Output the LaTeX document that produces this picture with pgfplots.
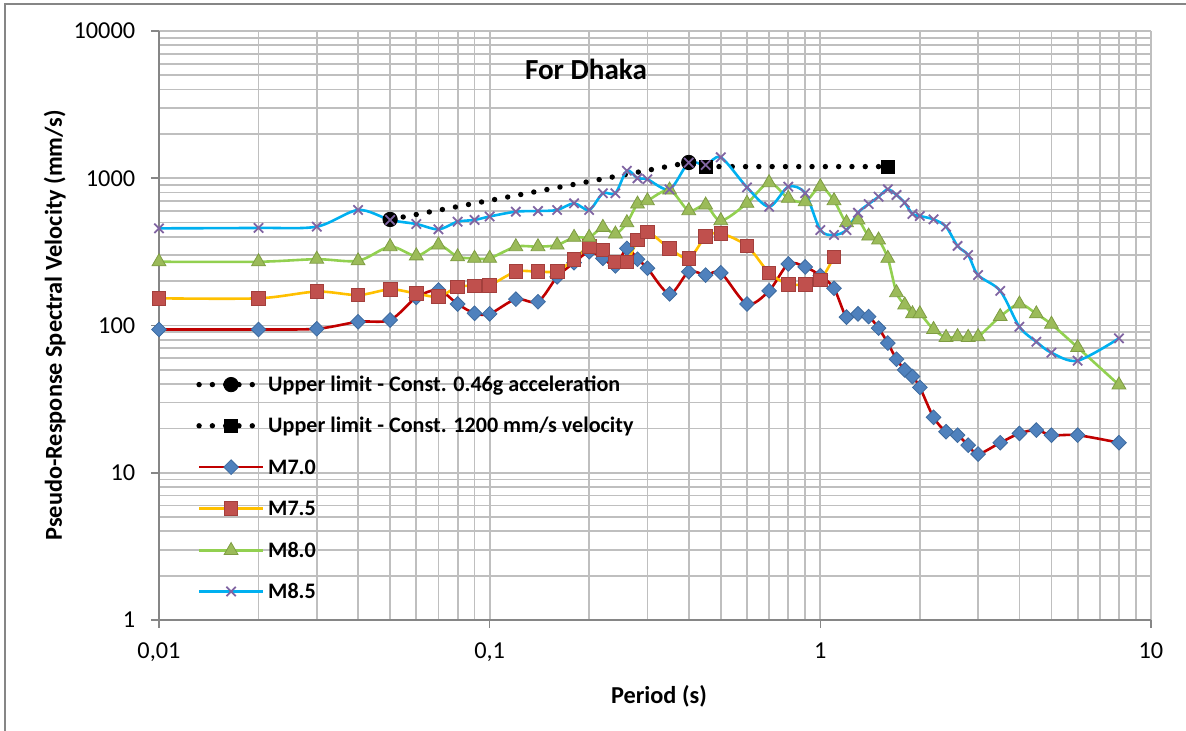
\documentclass[border=0pt]{standalone}
\usepackage{fontspec}
\setmainfont{Carlito}
\usepackage{pgfplots}
\pgfplotsset{compat=1.18}
\definecolor{bordergray}{HTML}{868686}
\definecolor{gridgray}{HTML}{BFBFBF}
\definecolor{axisgray}{HTML}{868686}
\definecolor{lred}{HTML}{C00000}
\definecolor{lyel}{HTML}{FFC000}
\definecolor{lgrn}{HTML}{92D050}
\definecolor{lcyan}{HTML}{00B0F0}
\definecolor{mblue}{HTML}{4F81BD}
\definecolor{mblueb}{HTML}{3D6A9E}
\definecolor{mred}{HTML}{C0504D}
\definecolor{mredb}{HTML}{A33F3C}
\definecolor{mgrn}{HTML}{9BBB59}
\definecolor{mgrnb}{HTML}{7E9C43}
\definecolor{mpur}{HTML}{8064A2}

\pgfplotstableread{
T v
0.01 94
0.02 94
0.03 95
0.04 106
0.05 109
0.06 155
0.07 174
0.08 140
0.09 121
0.1 120
0.12 151
0.14 145
0.16 214
0.18 267
0.2 317
0.22 286
0.24 254
0.26 334
0.28 282
0.3 245
0.35 164
0.4 232
0.45 220
0.5 228
0.6 140
0.7 172
0.8 262
0.9 250
1.0 218
1.1 179
1.2 114
1.3 120
1.4 115
1.5 96
1.6 76
1.7 59
1.8 50
1.9 45
2.0 38
2.2 23.8
2.4 19.0
2.6 18.0
2.8 15.4
3.0 13.4
3.5 16.0
4.0 18.5
4.5 19.5
5.0 18.0
6.0 18.0
8.0 16.0
}\mseven

\pgfplotstableread{
T v
0.01 153
0.02 153
0.03 170
0.04 161
0.05 176
0.06 165
0.07 157
0.08 183
0.09 186
0.1 188
0.12 232
0.14 232
0.16 234
0.18 282
0.2 343
0.22 326
0.24 271
0.26 271
0.28 381
0.3 433
0.35 334
0.4 286
0.45 401
0.5 422
0.6 347
0.7 228
0.8 191
0.9 191
1.0 204
1.1 293
}\msevenfive

\pgfplotstableread{
T v
0.01 271
0.02 271
0.03 282
0.04 275
0.05 343
0.06 297
0.07 352
0.08 293
0.09 286
0.1 286
0.12 343
0.14 343
0.16 352
0.18 397
0.2 397
0.22 464
0.24 418
0.26 499
0.28 668
0.3 704
0.35 832
0.4 602
0.45 658
0.5 515
0.6 676
0.7 933
0.8 731
0.9 693
1.0 876
1.1 704
1.2 499
1.3 521
1.4 405
1.5 381
1.6 286
1.7 167
1.8 138
1.9 120
2.0 120
2.2 94
2.4 83
2.6 84
2.8 83
3.0 84
3.5 115
4.0 140
4.5 120
5.0 102
6.0 71
8.0 39.5
}\meight

\pgfplotstableread{
T v
0.01 457
0.02 460
0.03 469
0.04 609
0.05 521
0.06 489
0.07 450
0.08 507
0.09 521
0.1 550
0.12 593
0.14 599
0.16 609
0.18 676
0.2 609
0.22 791
0.24 791
0.26 1125
0.28 1000
0.3 984
0.35 841
0.4 1275
0.45 1230
0.5 1388
0.6 868
0.7 641
0.8 876
0.9 791
1.0 445
1.1 412
1.2 445
1.3 583
1.4 668
1.5 749
1.6 841
1.7 770
1.8 682
1.9 572
2.0 554
2.2 526
2.4 469
2.6 347
2.8 301
3.0 220
3.5 172
4.0 98
4.5 77.6
5.0 65.3
6.0 57.7
8.0 81.8
}\meightfive

\begin{document}
\begin{tikzpicture}
\useasboundingbox (0,0) rectangle (593bp,-365.5bp);
\draw[draw=bordergray, line width=0.8bp] (2.5bp,-2bp) rectangle (640bp,-420bp);
\begin{axis}[
  at={(79.5bp,-310bp)}, anchor=south west,
  scale only axis, width=496bp, height=294.5bp,
  xmode=log, ymode=log,
  xmin=0.01, xmax=10, ymin=1, ymax=10000,
  clip=false,
  axis x line=bottom, axis y line=left,
  axis line style={-, draw=axisgray, line width=0.8bp},
  xtick={0.01,0.1,1,10},
  xticklabels={{0,01},{0,1},{1},{10}},
  ytick={1,10,100,1000,10000},
  yticklabels={1,10,100,1000,10000},
  minor xtick={0.02,0.03,0.04,0.05,0.06,0.07,0.08,0.09,0.2,0.3,0.4,0.5,0.6,0.7,0.8,0.9,2,3,4,5,6,7,8,9},
  minor ytick={2,3,4,5,6,7,8,9,20,30,40,50,60,70,80,90,200,300,400,500,600,700,800,900,2000,3000,4000,5000,6000,7000,8000,9000},
  grid=both,
  major grid style={draw=gridgray, line width=0.9bp},
  minor grid style={draw=gridgray, line width=0.9bp},
  tick align=outside,
  major tick length=4bp, minor tick length=0bp,
  tick style={draw=axisgray, line width=0.8bp},
  tick label style={font=\fontsize{12.2}{14}\selectfont, inner sep=0pt},
  xticklabel shift=7.2bp,
  yticklabel shift=7.75bp,
  xlabel={\bfseries Period (s)},
  ylabel={\bfseries Pseudo-Response Spectral Velocity (mm/s)},
  label style={font=\fontsize{12.2}{14}\selectfont},
  xlabel style={at={(axis description cs:0.504,-0.1409)}, anchor=base},
  ylabel style={at={(axis description cs:-0.0978,0.5)}, anchor=base},
  legend cell align=left,
  legend style={at={(rel axis cs:0.0373,0.4126)}, anchor=north west,
    draw=none, fill=none, inner sep=0pt, row sep=13.5bp,
    font=\fontsize{11.1}{13}\selectfont,
    nodes={inner sep=0pt, text height=7bp, text depth=0bp},
    /tikz/every odd column/.append style={column sep=1.2bp}},
  legend image code/.code={\draw[mark repeat=2,mark phase=2,#1] plot coordinates {(0bp,0bp) (16bp,0bp) (32bp,0bp)};},
]
\addplot[black, line width=2.7bp, dash pattern=on 0bp off 6.65bp, line cap=round,
  mark=*, mark size=3.6bp, mark options={solid, fill=black, draw=black, line width=0.4bp}]
  coordinates {(0.05,525) (0.4,1280)};
\addlegendentry{\bfseries Upper limit - Const. 0.46g acceleration}
\addplot[black, line width=2.7bp, dash pattern=on 0bp off 6.65bp, line cap=round,
  mark=square*, mark size=3.3bp, mark options={solid, fill=black, draw=black, line width=0.4bp}]
  coordinates {(0.45,1200) (1.6,1200)};
\addlegendentry{\bfseries Upper limit - Const. 1200 mm/s velocity}
\addplot[lred, line width=1.3bp, smooth, tension=0.5,
  mark=square*, mark size=2.6bp, mark options={rotate=45, fill=mblue, draw=mblueb, line width=0.4bp}]
  table[x=T, y=v] {\mseven};
\addlegendentry{\bfseries M7.0}
\addplot[lyel, line width=1.3bp, smooth, tension=0.5,
  mark=square*, mark size=3.4bp, mark options={fill=mred, draw=mredb, line width=0.4bp}]
  table[x=T, y=v] {\msevenfive};
\addlegendentry{\bfseries M7.5}
\addplot[lgrn, line width=1.3bp, smooth, tension=0.5,
  mark=triangle*, mark size=4bp, mark options={fill=mgrn, draw=mgrnb, line width=0.4bp}]
  table[x=T, y=v] {\meight};
\addlegendentry{\bfseries M8.0}
\addplot[lcyan, line width=1.3bp, smooth, tension=0.5,
  mark=x, mark size=3.3bp, mark options={draw=mpur, line width=0.9bp}]
  table[x=T, y=v] {\meightfive};
\addlegendentry{\bfseries M8.5}
\node[anchor=base, font=\fontsize{14.6}{17}\selectfont\bfseries] at (rel axis cs:0.4304,0.9185) {For Dhaka};
\end{axis}
\end{tikzpicture}
\end{document}
